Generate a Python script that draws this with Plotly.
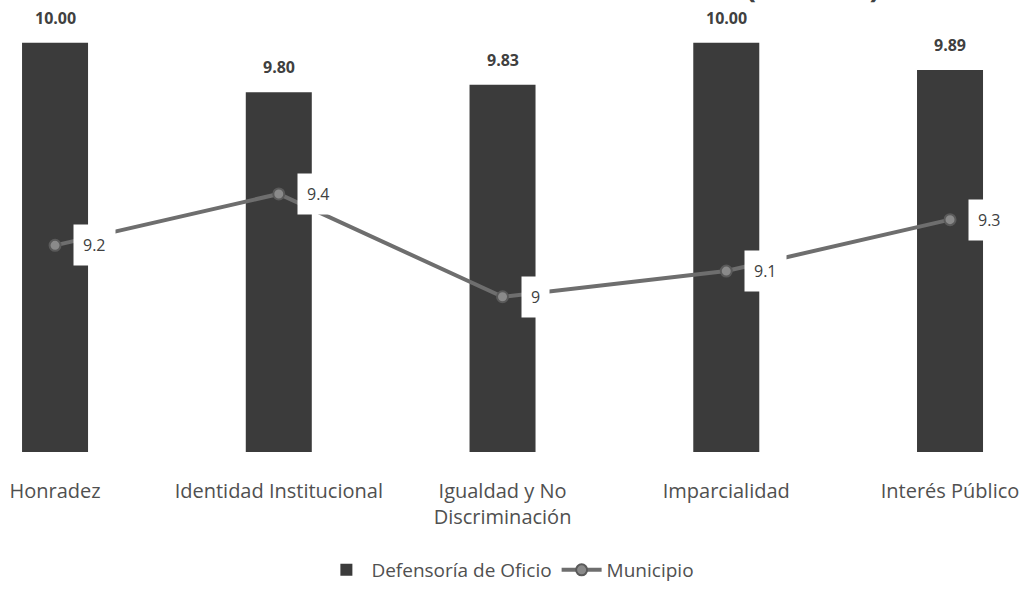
import plotly.graph_objects as go

categories = ["Honradez", "Identidad Institucional", "Igualdad y No<br>Discriminación",
              "Imparcialidad", "Interés Público"]
defensoria = [10.00, 9.80, 9.83, 10.00, 9.89]
municipio = [9.2, 9.4, 9.0, 9.1, 9.3]
bar_labels = ["10.00", "9.80", "9.83", "10.00", "9.89"]
line_labels = ["9.2", "9.4", "9", "9.1", "9.3"]
title_text = "Evaluación de Valores: Resultado Alcanzado (Parte 1)"

FONT = "Open Sans, Liberation Sans, Arial, sans-serif"
x_idx = list(range(len(categories)))

fig = go.Figure()
fig.add_trace(go.Bar(
    x=x_idx, y=defensoria, name="Defensoría de Oficio",
    marker=dict(color="#3b3b3b", line=dict(width=0)),
    width=0.295, yaxis="y",
))
fig.add_trace(go.Scatter(
    x=x_idx, y=municipio, name="Municipio", mode="lines+markers",
    line=dict(color="#6e6e6e", width=4),
    marker=dict(symbol="circle", size=11, color="#8a8a8a",
                line=dict(color="#5a5a5a", width=2)),
    yaxis="y2",
))

annotations = []
for i, (v, t) in enumerate(zip(defensoria, bar_labels)):
    annotations.append(dict(
        x=i, y=v, xref="x", yref="y", text="<b>" + t + "</b>", showarrow=False,
        yanchor="bottom", yshift=12, font=dict(family=FONT, size=16, color="#404040"),
    ))
for i, (v, t) in enumerate(zip(municipio, line_labels)):
    annotations.append(dict(
        x=i, y=v, xref="x", yref="y2", text=t, showarrow=False,
        xanchor="left", xshift=18, yanchor="middle",
        bgcolor="white", borderpad=9,
        font=dict(family=FONT, size=16, color="#404040"),
    ))
annotations.append(dict(
    x=0.447, y=1, xref="paper", yref="paper", text="<b>" + title_text + "</b>",
    showarrow=False, xanchor="center", yanchor="bottom", yshift=22,
    font=dict(family=FONT, size=32, color="#404040"),
))

fig.update_layout(
    width=1029, height=589,
    margin=dict(l=0, r=0, t=30, b=132),
    paper_bgcolor="white", plot_bgcolor="white",
    xaxis=dict(tickmode="array", tickvals=x_idx, ticktext=categories,
               range=[-0.246, 4.353], showgrid=False, zeroline=False,
               showline=False, ticks="", ticklabelstandoff=25,
               tickfont=dict(family=FONT, size=20, color="#505050")),
    yaxis=dict(range=[8.344, 10.052], visible=False, showgrid=False),
    yaxis2=dict(range=[8.396, 10.038], overlaying="y", visible=False, showgrid=False),
    showlegend=True,
    legend=dict(orientation="h", x=0.496, xanchor="center", y=-0.28, yanchor="middle",
                font=dict(family=FONT, size=19, color="#505050"),
                itemwidth=40, traceorder="normal"),
    annotations=annotations,
)

fig.write_html("out.html", config={"displayModeBar": False},
               post_script="document.body.style.margin='0';")
